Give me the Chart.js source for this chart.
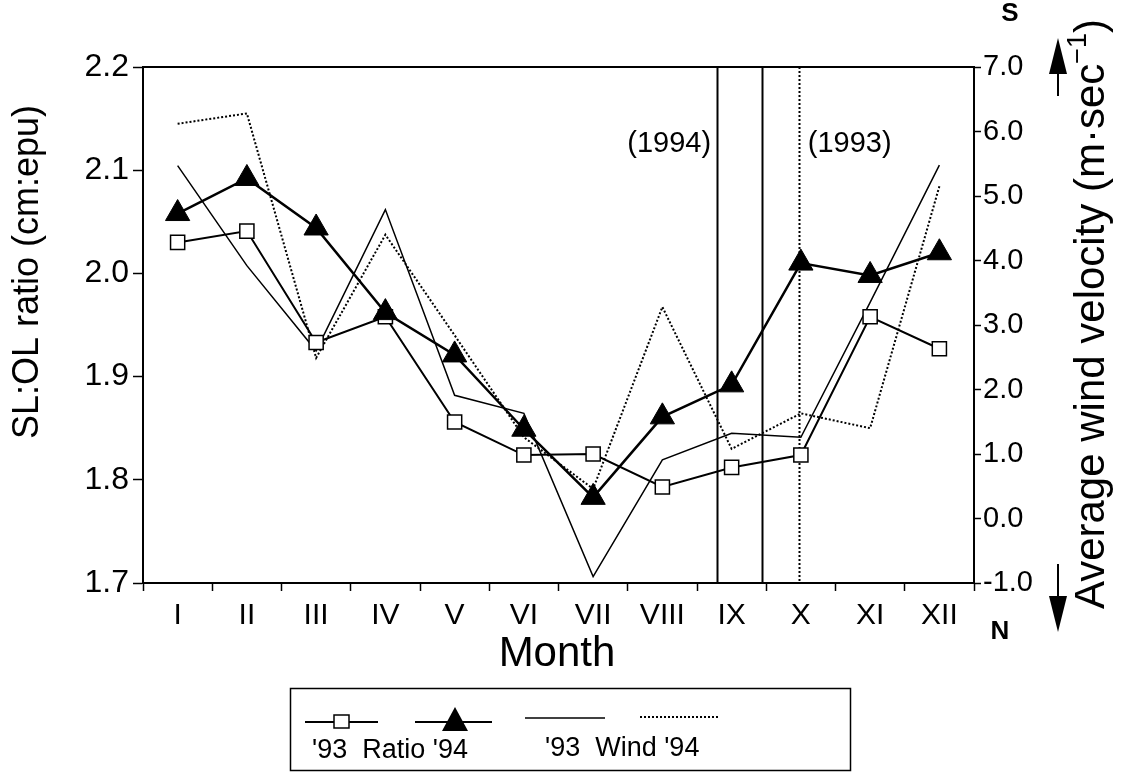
<!DOCTYPE html>
<html>
<head>
<meta charset="utf-8">
<script src="https://cdn.jsdelivr.net/npm/chart.js@4.4.1/dist/chart.umd.min.js"></script>
<style>
  html, body { margin: 0; padding: 0; background: #fff; }
  #wrap { width: 1123px; height: 776px; }
</style>
</head>
<body>
<div id="wrap"><canvas id="chart" width="1123" height="776"></canvas></div>
<script>
// data
var months = ["I", "II", "III", "IV", "V", "VI", "VII", "VIII", "IX", "X", "XI", "XII"];
var ratio93 = [2.030, 2.041, 1.933, 1.958, 1.856, 1.824, 1.825, 1.793, 1.812, 1.824, 1.958, 1.927];
var ratio94 = [2.058, 2.092, 2.044, 1.962, 1.921, 1.849, 1.783, 1.861, 1.892, 2.010, 1.998, 2.020];
var wind93 = [5.47, 3.92, 2.60, 4.79, 1.91, 1.63, -0.90, 0.91, 1.32, 1.26, 3.35, 5.48];
var wind94 = [6.12, 6.28, 2.49, 4.40, 2.84, 1.26, 0.46, 3.28, 1.08, 1.63, 1.40, 5.15];
var ratioTicks = [1.7, 1.8, 1.9, 2.0, 2.1, 2.2];
var windTicks = [-1, 0, 1, 2, 3, 4, 5, 6, 7];
// vertical marker lines, in month-index units
var marks1994 = [7.79, 8.44];
var marks1993 = [8.97];

var FONT = "'Liberation Sans', Arial, Helvetica, sans-serif";
Chart.defaults.font.family = FONT;
Chart.defaults.color = "#000";

function font(size, bold) {
  return (bold ? "bold " : "") + size + "px " + FONT;
}

var extras = {
  id: "extras",
  beforeDatasetsDraw: function (chart) {
    var ctx = chart.ctx, a = chart.chartArea, x = chart.scales.x;
    ctx.save();
    ctx.strokeStyle = "#000";
    // top frame line
    ctx.lineWidth = 2;
    ctx.beginPath();
    ctx.moveTo(a.left, a.top);
    ctx.lineTo(a.right, a.top);
    ctx.stroke();
    // year marker lines
    ctx.lineWidth = 2;
    marks1994.forEach(function (m) {
      var px = Math.round(x.getPixelForValue(m)) + 0.5;
      ctx.beginPath();
      ctx.moveTo(px, a.top);
      ctx.lineTo(px, a.bottom);
      ctx.stroke();
    });
    ctx.setLineDash([2, 2]);
    marks1993.forEach(function (m) {
      var px = Math.round(x.getPixelForValue(m)) + 0.5;
      ctx.beginPath();
      ctx.moveTo(px, a.top);
      ctx.lineTo(px, a.bottom);
      ctx.stroke();
    });
    ctx.setLineDash([]);
    ctx.fillStyle = "#000";
    ctx.font = font(29);
    ctx.textBaseline = "middle";
    ctx.textAlign = "right";
    ctx.fillText("(1994)", x.getPixelForValue(marks1994[0]) - 6, a.top + 77);
    ctx.textAlign = "left";
    ctx.fillText("(1993)", x.getPixelForValue(marks1993[0]) + 9, a.top + 77);
    ctx.restore();
  },
  afterDraw: function (chart) {
    var ctx = chart.ctx;
    ctx.save();
    ctx.fillStyle = "#000";
    ctx.strokeStyle = "#000";
    ctx.textBaseline = "middle";

    // left axis title
    ctx.save();
    ctx.translate(28, 272);
    ctx.rotate(-Math.PI / 2);
    ctx.textAlign = "center";
    ctx.font = font(36);
    ctx.fillText("SL:OL ratio (cm:epu)", 0, 0);
    ctx.restore();

    // right axis title with superscript
    ctx.save();
    ctx.translate(1092, 314);
    ctx.rotate(-Math.PI / 2);
    ctx.textAlign = "left";
    var main = "Average wind velocity (m\u00b7sec";
    ctx.font = font(42);
    var w1 = ctx.measureText(main).width;
    var w3 = ctx.measureText(")").width;
    ctx.font = font(27);
    var w2 = ctx.measureText("\u22121").width;
    var start = -(w1 + w2 + w3) / 2;
    ctx.font = font(42);
    ctx.fillText(main, start, 0);
    ctx.font = font(27);
    ctx.fillText("\u22121", start + w1, -13);
    ctx.font = font(42);
    ctx.fillText(")", start + w1 + w2, 0);
    ctx.restore();

    // month title
    ctx.textAlign = "center";
    ctx.font = font(42);
    ctx.fillText("Month", 557, 654);

    // S / N and arrows
    ctx.font = font(26, true);
    ctx.fillText("S", 1010, 14);
    ctx.fillText("N", 1000, 632);
    ctx.lineWidth = 2;
    ctx.beginPath();
    ctx.moveTo(1058, 70); ctx.lineTo(1058, 96); ctx.stroke();
    ctx.beginPath();
    ctx.moveTo(1058, 38); ctx.lineTo(1049, 74); ctx.lineTo(1067, 74); ctx.closePath(); ctx.fill();
    ctx.beginPath();
    ctx.moveTo(1058, 564); ctx.lineTo(1058, 600); ctx.stroke();
    ctx.beginPath();
    ctx.moveTo(1058, 632); ctx.lineTo(1049, 596); ctx.lineTo(1067, 596); ctx.closePath(); ctx.fill();

    // legend box
    ctx.lineWidth = 1.5;
    ctx.strokeRect(290.5, 688.5, 560, 82);
    ctx.lineWidth = 2;
    ctx.beginPath(); ctx.moveTo(305, 722); ctx.lineTo(378, 722); ctx.stroke();
    ctx.fillStyle = "#fff";
    ctx.lineWidth = 1.5;
    ctx.fillRect(334, 715, 15, 13);
    ctx.strokeRect(334, 715, 15, 13);
    ctx.fillStyle = "#000";
    ctx.lineWidth = 2;
    ctx.beginPath(); ctx.moveTo(415, 722); ctx.lineTo(492, 722); ctx.stroke();
    ctx.beginPath();
    ctx.moveTo(455, 707); ctx.lineTo(442, 731); ctx.lineTo(468, 731); ctx.closePath(); ctx.fill();
    ctx.lineWidth = 1.5;
    ctx.beginPath(); ctx.moveTo(525, 718); ctx.lineTo(605, 718); ctx.stroke();
    ctx.lineWidth = 2;
    ctx.setLineDash([2, 2]);
    ctx.beginPath(); ctx.moveTo(640, 717); ctx.lineTo(720, 717); ctx.stroke();
    ctx.setLineDash([]);
    ctx.textAlign = "left";
    ctx.font = font(27);
    ctx.fillText("'93  Ratio '94", 312, 751);
    ctx.fillText("'93  Wind '94", 545, 749);
    ctx.restore();
  }
};

var ctx = document.getElementById("chart").getContext("2d");
var chart = new Chart(ctx, {
  type: "line",
  data: {
    labels: months,
    datasets: [
      {
        label: "Ratio '94",
        data: ratio94,
        yAxisID: "y",
        borderColor: "#000",
        borderWidth: 2.5,
        pointStyle: "triangle",
        pointRadius: 14,
        pointBackgroundColor: "#000",
        pointBorderColor: "#000",
        pointBorderWidth: 1,
        tension: 0,
      },
      {
        label: "Ratio '93",
        data: ratio93,
        yAxisID: "y",
        borderColor: "#000",
        borderWidth: 2,
        pointStyle: "rect",
        pointRadius: 10,
        pointBackgroundColor: "#fff",
        pointBorderColor: "#000",
        pointBorderWidth: 1.5,
        tension: 0,
      },
      {
        label: "Wind '93",
        data: wind93,
        yAxisID: "y2",
        borderColor: "#000",
        borderWidth: 1.5,
        pointRadius: 0,
        tension: 0,
      },
      {
        label: "Wind '94",
        data: wind94,
        yAxisID: "y2",
        borderColor: "#000",
        borderWidth: 2,
        borderDash: [2, 2],
        pointRadius: 0,
        tension: 0,
      },
    ],
  },
  options: {
    responsive: false,
    animation: false,
    devicePixelRatio: 1,
    layout: { padding: { top: 67, bottom: 143, left: 0, right: 0 } },
    plugins: {
      legend: { display: false },
      tooltip: { enabled: false },
    },
    scales: {
      x: {
        type: "category",
        offset: true,
        grid: {
          offset: true,
          drawOnChartArea: false,
          drawTicks: true,
          tickLength: 8,
          tickWidth: 1.5,
          tickColor: "#000",
        },
        border: { color: "#000", width: 2 },
        ticks: { font: { size: 30 }, color: "#000", padding: 7, maxRotation: 0 },
        afterFit: function (s) { s.height = 50; },
      },
      y: {
        position: "left",
        min: 1.7,
        max: 2.2,
        afterBuildTicks: function (s) {
          s.ticks = ratioTicks.map(function (v) { return { value: v }; });
        },
        grid: {
          drawOnChartArea: false,
          tickLength: 10,
          tickWidth: 1.5,
          tickColor: "#000",
        },
        border: { color: "#000", width: 2 },
        ticks: {
          font: { size: 32 },
          color: "#000",
          padding: 4,
          callback: function (v) { return Number(v).toFixed(1); },
        },
        afterFit: function (s) { s.width = 143; },
      },
      y2: {
        position: "right",
        min: -1,
        max: 7,
        afterBuildTicks: function (s) {
          s.ticks = windTicks.map(function (v) { return { value: v }; });
        },
        grid: {
          drawOnChartArea: false,
          tickLength: 7,
          tickWidth: 1.5,
          tickColor: "#000",
        },
        border: { color: "#000", width: 2 },
        ticks: {
          font: { size: 29 },
          color: "#000",
          padding: 2,
          callback: function (v) { return Number(v).toFixed(1); },
        },
        afterFit: function (s) { s.width = 149; },
      },
    },
  },
  plugins: [extras],
});
</script>
</body>
</html>
